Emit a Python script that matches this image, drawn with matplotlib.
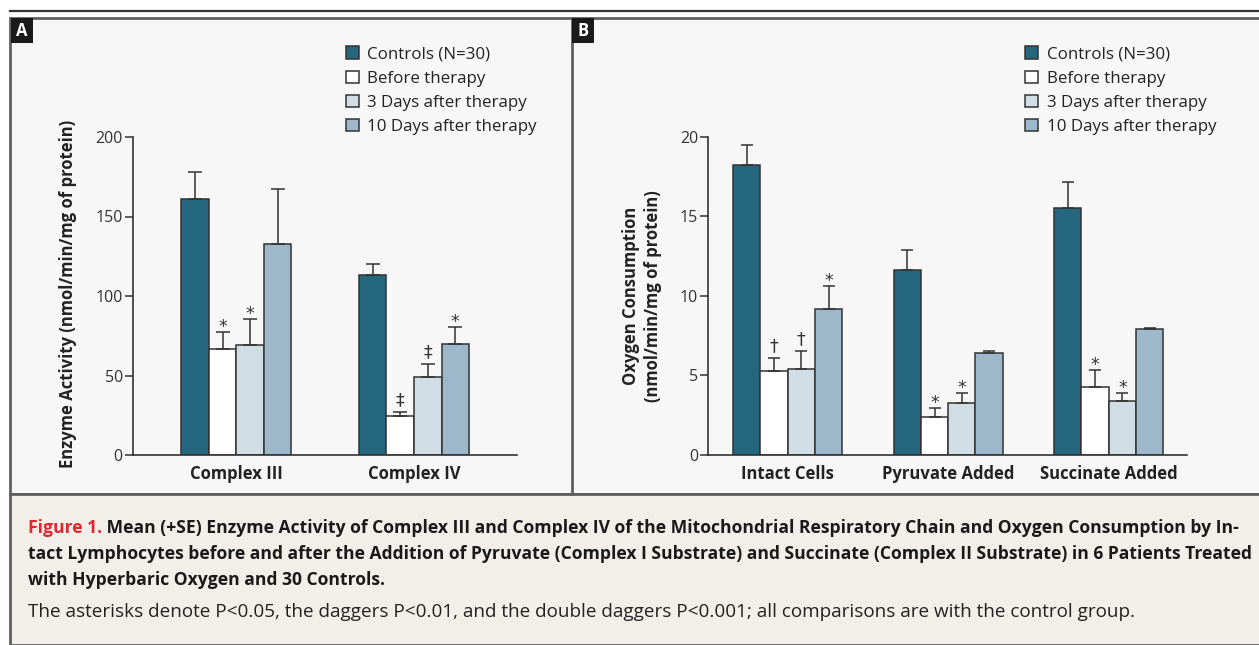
import matplotlib
matplotlib.use("Agg")
import numpy as np
import matplotlib.pyplot as plt
from matplotlib.patches import Rectangle

W, H = 1259, 645

# legend series and colours
series = ["Controls (N=30)", "Before therapy", "3 Days after therapy",
          "10 Days after therapy"]
colors = ["#25677f", "#ffffff", "#d1dde5", "#9cb8ca"]

# panel A, enzyme activity
enz_groups = ["Complex III", "Complex IV"]
enz_controls = [161, 113]
enz_controls_se = [17, 7]
enz_before = [66.5, 24.7]
enz_before_se = [11, 2.5]
enz_3d = [69.4, 49.3]
enz_3d_se = [16, 7.7]
enz_10d = [133, 69.8]
enz_10d_se = [34.5, 10.7]
enz_marks = [["", ""], ["*", "\u2021"], ["*", "\u2021"], ["", "*"]]

# panel B, oxygen consumption
oxy_groups = ["Intact Cells", "Pyruvate Added", "Succinate Added"]
oxy_controls = [18.2, 11.65, 15.5]
oxy_controls_se = [1.25, 1.25, 1.65]
oxy_before = [5.26, 2.39, 4.28]
oxy_before_se = [0.84, 0.58, 1.09]
oxy_3d = [5.39, 3.25, 3.38]
oxy_3d_se = [1.13, 0.67, 0.5]
oxy_10d = [9.16, 6.4, 7.9]
oxy_10d_se = [1.44, 0.16, 0.09]
oxy_marks = [["", "", ""], ["\u2020", "*", "*"], ["\u2020", "*", "*"],
             ["*", "", ""]]

plt.rcParams['font.family'] = ['Open Sans', 'DejaVu Sans']
INK = "#333333"


def fx(x):
    return x / W


def fy(y):
    return 1 - y / H


def add_axes_px(fig, left, right, top, bottom):
    return fig.add_axes([fx(left), fy(bottom), fx(right - left),
                         (bottom - top) / H])


def bar_panel(ax, groups, means, ses, marks, width, capsize, ymax, yticks):
    centers = np.arange(len(groups))
    handles = []
    for i in range(4):
        x = centers + (i - 1.5) * width
        b = ax.bar(x, means[i], width, color=colors[i], edgecolor=INK,
                   linewidth=1.1, zorder=2, label=series[i])
        handles.append(b)
        ax.errorbar(x, means[i], yerr=[np.zeros(len(x)), ses[i]], fmt='none',
                    ecolor=INK, elinewidth=1.1, capsize=capsize,
                    capthick=1.1, zorder=3)
        for xx, m, s, t in zip(x, means[i], ses[i], marks[i]):
            if t:
                off = 0 if t == "*" else 5
                ax.annotate(t, (xx, m + s), xytext=(0, off),
                            textcoords='offset points', ha='center',
                            va='baseline', fontsize=12.5, color=INK,
                            family='DejaVu Sans')
    ax.set_ylim(0, ymax)
    ax.set_yticks(yticks)
    ax.set_xticks(centers)
    ax.set_xticklabels(groups, fontweight='bold', fontsize=12, color="#222")
    for s in ['top', 'right']:
        ax.spines[s].set_visible(False)
    ax.spines['left'].set_bounds(0, ymax)
    for s in ['left', 'bottom']:
        ax.spines[s].set_color(INK)
        ax.spines[s].set_linewidth(1.2)
    ax.tick_params(axis='y', direction='out', length=6, width=1.1,
                   pad=1.5, labelsize=11.5, colors=INK)
    ax.tick_params(axis='x', length=0, pad=7)
    ax.set_facecolor('none')
    return handles


fig = plt.figure(figsize=(W / 100, H / 100), dpi=100)
fig.patch.set_facecolor('white')

# frames
fig.add_artist(Rectangle((fx(10), fy(494)), fx(1260 - 10), (494 - 18) / H,
                         transform=fig.transFigure, facecolor='#f7f7f7',
                         edgecolor='#606060', linewidth=2, zorder=-10))
fig.add_artist(Rectangle((fx(10), 0), fx(1260 - 10), (645 - 494) / H,
                         transform=fig.transFigure, facecolor='#f2eee9',
                         edgecolor='#606060', linewidth=2, zorder=-10))
fig.add_artist(plt.Line2D([fx(572), fx(572)], [fy(18), fy(494)],
                          transform=fig.transFigure, color='#606060',
                          linewidth=2, zorder=-9))
fig.add_artist(plt.Line2D([fx(10), 1], [fy(11), fy(11)],
                          transform=fig.transFigure, color='#333333',
                          linewidth=1.6, zorder=-9))
for lab, x0 in [("A", 11), ("B", 572)]:
    fig.add_artist(Rectangle((fx(x0), fy(43)), fx(22), 25 / H,
                             transform=fig.transFigure, facecolor='#1a1a1a',
                             edgecolor='none', zorder=-8))
    fig.text(fx(x0 + 11), fy(31), lab, color='white', fontweight='bold',
             fontsize=12, ha='center', va='center')

# panel A
axA = add_axes_px(fig, 133.2, 516.8, 137, 455)
hA = bar_panel(axA, enz_groups,
               [enz_controls, enz_before, enz_3d, enz_10d],
               [enz_controls_se, enz_before_se, enz_3d_se, enz_10d_se],
               enz_marks, 0.155, 5, 200, [0, 50, 100, 150, 200])
axA.set_xlim(-0.581, 1.579)
fig.text(fx(68.5), fy(294), "Enzyme Activity (nmol/min/mg of protein)",
         rotation=90, ha='center', va='center', fontweight='bold',
         fontsize=12, color="#222")

# panel B
axB = add_axes_px(fig, 708.5, 1187.3, 136.7, 455)
hB = bar_panel(axB, oxy_groups,
               [oxy_controls, oxy_before, oxy_3d, oxy_10d],
               [oxy_controls_se, oxy_before_se, oxy_3d_se, oxy_10d_se],
               oxy_marks, 0.170, 4, 20, [0, 5, 10, 15, 20])
axB.set_xlim(-0.4925, 2.489)
fig.text(fx(642), fy(296), "Oxygen Consumption\n(nmol/min/mg of protein)",
         rotation=90, ha='center', va='center', multialignment='center',
         fontweight='bold', fontsize=12, color="#222", linespacing=1.35)

for hs, x0 in [(hA, 345.6), (hB, 1025)]:
    fig.legend(handles=hs, labels=series, loc='upper left',
               bbox_to_anchor=(fx(x0), fy(46.5)),
               bbox_transform=fig.transFigure,
               frameon=False, fontsize=12.2, handlelength=0.77,
               handleheight=0.77, handletextpad=0.52, labelspacing=0.46,
               borderpad=0, borderaxespad=0, labelcolor="#222")

# caption
cap = 12.6
t1 = fig.text(fx(28), fy(533), "Figure 1.", color='#e3262f',
              fontweight='bold', fontsize=cap, va='baseline')
fig.canvas.draw()
bb = t1.get_window_extent()
fig.text(bb.x1 / W, fy(533),
         " Mean (+SE) Enzyme Activity of Complex III and Complex IV of the "
         "Mitochondrial Respiratory Chain and Oxygen Consumption by In-",
         color='#1a1a1a', fontweight='bold', fontsize=cap, va='baseline')
fig.text(fx(28), fy(559),
         "tact Lymphocytes before and after the Addition of Pyruvate "
         "(Complex I Substrate) and Succinate (Complex II Substrate) in 6 "
         "Patients Treated",
         color='#1a1a1a', fontweight='bold', fontsize=cap, va='baseline')
fig.text(fx(28), fy(585), "with Hyperbaric Oxygen and 30 Controls.",
         color='#1a1a1a', fontweight='bold', fontsize=cap, va='baseline')
fig.text(fx(28), fy(617),
         "The asterisks denote P<0.05, the daggers P<0.01, and the double "
         "daggers P<0.001; all comparisons are with the control group.",
         color='#222222', fontsize=13.6, va='baseline')

fig.savefig("out.png", dpi=100, facecolor=fig.get_facecolor())
